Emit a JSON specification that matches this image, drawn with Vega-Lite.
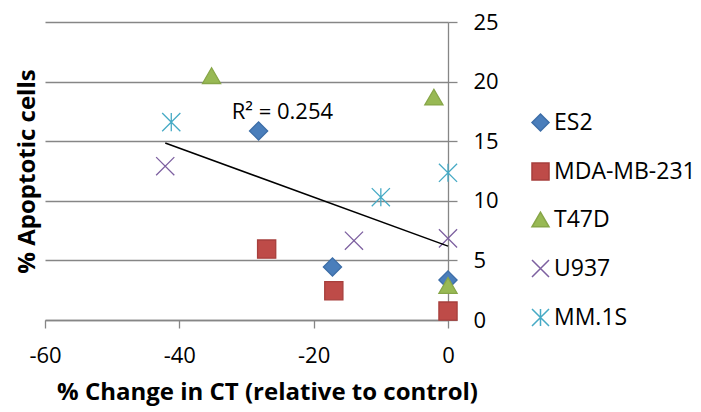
{
  "$schema": "https://vega.github.io/schema/vega-lite/v6.json",
  "width": 403,
  "height": 298,
  "autosize": "none",
  "padding": {"left": 45, "top": 22, "right": 253, "bottom": 92},
  "background": "white",
  "config": {
    "font": "Open Sans",
    "view": {"stroke": null},
    "axis": {
      "domain": true,
      "domainColor": "#868686",
      "domainWidth": 1.3,
      "tickColor": "#868686",
      "tickWidth": 1.3,
      "gridColor": "#868686",
      "gridWidth": 1.3,
      "labelColor": "black",
      "labelFontSize": 22,
      "labelFont": "Open Sans",
      "labelFlush": false,
      "titleFont": "Open Sans",
      "titleFontSize": 24,
      "titleFontWeight": "bold",
      "titleColor": "black"
    }
  },
  "datasets": {
    "points": [
      {"line": "ES2", "ct": -28.2, "apoptotic": 15.86},
      {"line": "ES2", "ct": -17.2, "apoptotic": 4.45},
      {"line": "ES2", "ct": 0, "apoptotic": 3.36},
      {"line": "MDA-MB-231", "ct": -27.0, "apoptotic": 5.95},
      {"line": "MDA-MB-231", "ct": -17.0, "apoptotic": 2.45},
      {"line": "MDA-MB-231", "ct": 0, "apoptotic": 0.75},
      {"line": "T47D", "ct": -35.2, "apoptotic": 20.5},
      {"line": "T47D", "ct": -2.1, "apoptotic": 18.7},
      {"line": "T47D", "ct": 0, "apoptotic": 2.9},
      {"line": "U937", "ct": -42.1, "apoptotic": 12.9},
      {"line": "U937", "ct": -14.0, "apoptotic": 6.65},
      {"line": "U937", "ct": 0, "apoptotic": 6.85},
      {"line": "MM.1S", "ct": -41.2, "apoptotic": 16.6},
      {"line": "MM.1S", "ct": -10.0, "apoptotic": 10.3},
      {"line": "MM.1S", "ct": 0, "apoptotic": 12.35}
    ],
    "trend": [
      {"ct": -42.1, "apoptotic": 14.85},
      {"ct": 0, "apoptotic": 6.2}
    ],
    "label": [
      {"ct": -32.2, "apoptotic": 17.45, "text": "R² = 0.254"}
    ]
  },
  "layer": [
    {
      "data": {"name": "points"},
      "mark": {"type": "point", "filled": true, "size": 330, "strokeWidth": 1.3, "opacity": 1},
      "encoding": {
        "x": {
          "field": "ct", "type": "quantitative",
          "scale": {"domain": [-60, 0], "nice": false, "zero": false},
          "axis": {
            "values": [-60, -40, -20, 0],
            "labelExpr": "toString(datum.value)",
            "grid": false,
            "domain": true,
            "tickSize": 8,
            "labelPadding": 17,
            "title": "% Change in CT (relative to control)",
            "titleX": 222,
            "titleY": 72,
            "titleAlign": "center",
            "titleBaseline": "middle"
          }
        },
        "y": {
          "field": "apoptotic", "type": "quantitative",
          "scale": {"domain": [0, 25], "nice": false},
          "axis": {
            "orient": "right",
            "values": [0, 5, 10, 15, 20, 25],
            "grid": true,
            "domain": true,
            "tickSize": 9,
            "labelPadding": 16,
            "labelAlign": "left",
            "title": null
          }
        },
        "shape": {
          "field": "line", "type": "nominal",
          "scale": {
            "domain": ["ES2", "MDA-MB-231", "T47D", "U937", "MM.1S"],
            "range": ["diamond", "square", "triangle-up", "M-1,-1L1,1M-1,1L1,-1", "M-1,-1L1,1M-1,1L1,-1M0,-1L0,1"]
          },
          "legend": {
            "title": null,
            "orient": "none",
            "legendX": 484,
            "legendY": 89,
            "padding": 0,
            "labelFontSize": 23,
            "labelFont": "Open Sans",
            "labelColor": "black",
            "symbolSize": 290,
            "symbolStrokeWidth": 1.5,
            "rowPadding": 24,
            "labelOffset": 2
          }
        },
        "fill": {
          "field": "line", "type": "nominal",
          "scale": {
            "domain": ["ES2", "MDA-MB-231", "T47D", "U937", "MM.1S"],
            "range": ["#4A7EBB", "#BE4B48", "#98B954", "#7D60A0", "#46AAC5"]
          }
        },
        "stroke": {
          "field": "line", "type": "nominal",
          "scale": {
            "domain": ["ES2", "MDA-MB-231", "T47D", "U937", "MM.1S"],
            "range": ["#3D6EA8", "#A73F3C", "#87A648", "#7D60A0", "#46AAC5"]
          }
        }
      }
    },
    {
      "data": {"name": "trend"},
      "mark": {"type": "line", "color": "black", "strokeWidth": 1.5},
      "encoding": {
        "x": {"field": "ct", "type": "quantitative", "axis": null},
        "y": {
          "field": "apoptotic", "type": "quantitative",
          "axis": {
            "orient": "left",
            "labels": false,
            "ticks": false,
            "domain": false,
            "grid": false,
            "title": "% Apoptotic cells",
            "titleFontSize": 24,
            "titleX": -18,
            "titleY": 149,
            "titleBaseline": "middle"
          }
        }
      }
    },
    {
      "data": {"name": "label"},
      "mark": {"type": "text", "align": "left", "baseline": "middle", "fontSize": 22, "font": "Open Sans", "color": "black"},
      "encoding": {
        "x": {"field": "ct", "type": "quantitative", "axis": null},
        "y": {"field": "apoptotic", "type": "quantitative", "axis": null},
        "text": {"field": "text"}
      }
    }
  ],
  "resolve": {"axis": {"x": "independent", "y": "independent"}}
}
